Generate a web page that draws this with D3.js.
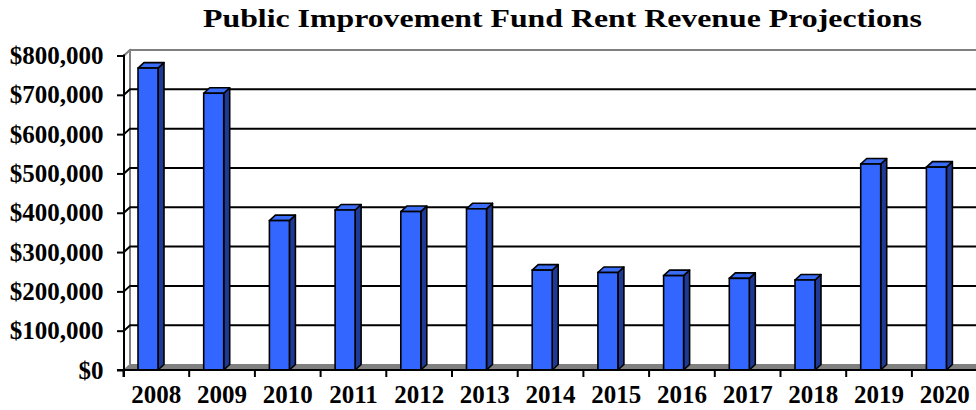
<!DOCTYPE html>
<html>
<head>
<meta charset="utf-8">
<script src="https://cdn.jsdelivr.net/npm/d3@7"></script>
<style>
html, body { margin: 0; padding: 0; background: #fff; }
svg { display: block; overflow: hidden; }
</style>
</head>
<body>
<svg id="chart" width="976" height="410"></svg>
<script>
const title = "Public Improvement Fund Rent Revenue Projections";
const years = ["2008","2009","2010","2011","2012","2013","2014","2015","2016","2017","2018","2019","2020"];
const revenue = [768000, 704000, 380000, 407000, 403000, 410000, 254000, 248000, 240000, 233000, 229000, 524000, 516000];
const yTicks = [0, 100000, 200000, 300000, 400000, 500000, 600000, 700000, 800000];

const W = 976, H = 410;
const FONT = "'Liberation Serif', 'Times New Roman', serif";
const svg = d3.select("#chart");
const DX = 6, DY = 5.5;           // 3D depth offset
const axisX = 124;                  // front value axis
const y = d3.scaleLinear().domain([0, 800000]).range([370, 55.5]);  // front
const yb = v => y(v) - DY;          // back wall
const x = d3.scaleBand().domain(years).range([123.5, 123.5 + 65.7 * years.length]).paddingInner(0).paddingOuter(0);

function stretch(sel, scale) {
  sel.each(function() {
    const t = d3.select(this);
    const ax = +(t.attr("x") || 0);
    t.attr("transform", `translate(${ax},0) scale(${scale},1) translate(${-ax},0)`);
  });
}

// side wall
svg.append("path")
  .attr("d", `M${axisX},${y(0)}L${axisX},${y(800000)}L${axisX+DX},${yb(800000)}L${axisX+DX},${yb(0)}Z`)
  .attr("fill", "#fff").attr("stroke", "#a0a0a0").attr("stroke-width", 1.5);

// floor
svg.append("path")
  .attr("d", `M${axisX},${y(0)}L${axisX+DX},${yb(0)}L${W+10},${yb(0)}L${W+10},${y(0)}Z`)
  .attr("fill", "#808080").attr("stroke", "#808080").attr("stroke-width", 1);

// back wall border
svg.append("path")
  .attr("d", `M${axisX+DX},${yb(0)}L${axisX+DX},${yb(800000)}L${W+10},${yb(800000)}`)
  .attr("fill", "none").attr("stroke", "#808080").attr("stroke-width", 2);
svg.append("line")
  .attr("x1", axisX).attr("y1", y(800000)).attr("x2", axisX+DX).attr("y2", yb(800000))
  .attr("stroke", "#808080").attr("stroke-width", 2);

// gridlines
svg.append("g").selectAll("path")
  .data(yTicks.filter(t => t > 0 && t < 800000))
  .join("path")
  .attr("d", t => `M${axisX},${y(t)}L${axisX+DX},${yb(t)}L${W+10},${yb(t)}`)
  .attr("fill", "none").attr("stroke", "#000").attr("stroke-width", 2);

// bars
const bw = 20, off = 14.5;
const bars = svg.append("g").selectAll("g").data(years.map((yr, i) => ({yr, v: revenue[i]}))).join("g");
bars.append("path") // side
  .attr("d", d => {
    const x1 = x(d.yr) + off + bw;
    return `M${x1},${y(0)}L${x1+DX},${y(0)-DY}L${x1+DX},${y(d.v)-DY}L${x1},${y(d.v)}Z`;
  })
  .attr("fill", "#1f3a94").attr("stroke", "#000").attr("stroke-width", 1.6).attr("stroke-linejoin", "round");
bars.append("path") // top
  .attr("d", d => {
    const x0 = x(d.yr) + off, yt = y(d.v);
    return `M${x0},${yt}L${x0+DX},${yt-DY}L${x0+bw+DX},${yt-DY}L${x0+bw},${yt}Z`;
  })
  .attr("fill", "#3a6cf5").attr("stroke", "#000").attr("stroke-width", 1.6).attr("stroke-linejoin", "round");
bars.append("rect") // front
  .attr("x", d => x(d.yr) + off)
  .attr("y", d => y(d.v))
  .attr("width", bw)
  .attr("height", d => y(0) - y(d.v))
  .attr("fill", "#3366ff").attr("stroke", "#000").attr("stroke-width", 1.6);

// y axis
const yAxis = svg.append("g").attr("transform", `translate(${axisX},0)`)
  .call(d3.axisLeft(y).tickValues(yTicks).tickSize(7).tickPadding(13.5).tickFormat(d3.format("$,")));
yAxis.select(".domain").attr("stroke", "#000").attr("stroke-width", 2)
  .attr("d", `M0,${y(800000)-1}V${y(0)+7}`);
yAxis.selectAll(".tick line").attr("stroke", "#000").attr("stroke-width", 2);
yAxis.selectAll(".tick text")
  .attr("font-family", FONT)
  .attr("font-weight", "bold").attr("font-size", 25).attr("fill", "#000");

// x axis
const xAxis = svg.append("g").attr("transform", `translate(0,${y(0)})`)
  .call(d3.axisBottom(x).tickSize(0).tickPadding(15));
xAxis.select(".domain").attr("stroke", "#000").attr("stroke-width", 2)
  .attr("d", `M117,0H${W+10}`);
xAxis.selectAll(".tick text")
  .attr("font-family", FONT)
  .attr("font-weight", "bold").attr("font-size", 25).attr("fill", "#000");
xAxis.append("g").selectAll("line")
  .data(years.concat(["end"]))
  .join("line")
  .attr("x1", (d, i) => x.range()[0] + i * x.step())
  .attr("x2", (d, i) => x.range()[0] + i * x.step())
  .attr("y1", 0).attr("y2", 7)
  .attr("stroke", "#000").attr("stroke-width", 2);

// title
const tt = svg.append("text")
  .attr("x", 562.5).attr("y", 27)
  .attr("text-anchor", "middle")
  .attr("font-family", FONT)
  .attr("font-weight", "bold").attr("font-size", 26)
  .text(title);
stretch(tt, 719 / tt.node().getComputedTextLength());
</script>
</body>
</html>
